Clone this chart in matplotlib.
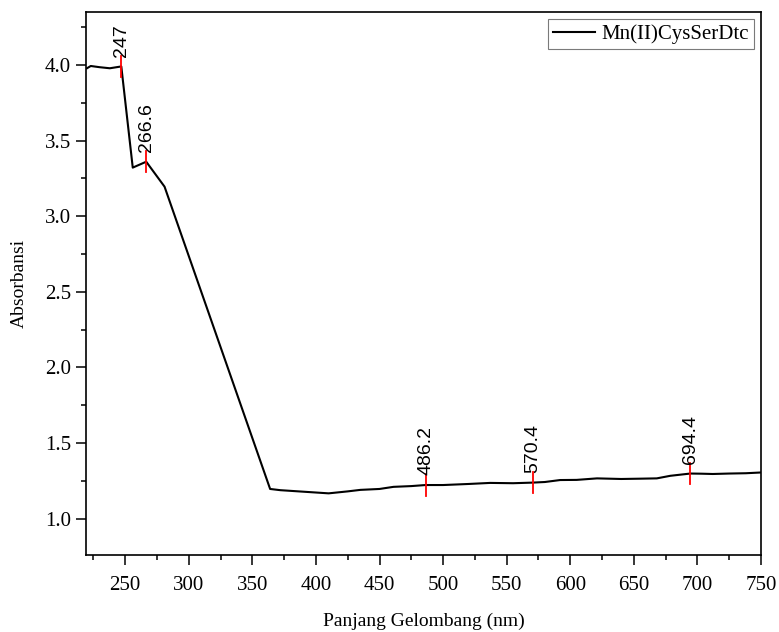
import numpy as np
import matplotlib
matplotlib.use('Agg')
import matplotlib.pyplot as plt
from matplotlib.ticker import MultipleLocator

plt.rcParams['font.family'] = ['Liberation Serif', 'DejaVu Serif']

# spectrum
wavelength = [220, 223, 230, 238, 247, 256, 266.6, 281, 364, 372, 390, 410, 425, 435,
              450, 461, 475, 486.2, 500, 520, 537, 555, 570.4, 580, 592, 605, 621,
              640, 655, 668, 678.6, 694.4, 703, 712, 725, 738, 750]
absorbance = [3.978, 3.993, 3.985, 3.978, 3.99, 3.321, 3.36, 3.195, 1.196, 1.188, 1.178,
              1.167, 1.18, 1.19, 1.196, 1.21, 1.215, 1.222, 1.222, 1.229, 1.236, 1.234,
              1.238, 1.242, 1.255, 1.256, 1.266, 1.262, 1.264, 1.266, 1.283, 1.298,
              1.297, 1.295, 1.298, 1.300, 1.305]

peak_x = [247, 266.6, 486.2, 570.4, 694.4]
peak_y = [3.99, 3.36, 1.222, 1.238, 1.298]
peak_labels = ['247', '266.6', '486.2', '570.4', '694.4']

fontsize = 15
fig = plt.figure(figsize=(7.79, 6.32), dpi=100)
ax = fig.add_axes([0.110, 0.122, 0.867, 0.859])

ax.plot(wavelength, absorbance, '-k', lw=1.5, label='Mn(II)CysSerDtc')

half = 0.07
for px, py, lab in zip(peak_x, peak_y, peak_labels):
    ax.plot([px, px], [py - half, py + half], '-r', lw=1.3)
    ax.text(px, py + half - 0.005, lab, rotation=90, ha='center', va='bottom',
            fontsize=14, family=['Liberation Sans', 'DejaVu Sans'])

ax.set_xlim(219, 750)
ax.set_ylim(0.76, 4.35)
ax.xaxis.set_major_locator(MultipleLocator(50))
ax.xaxis.set_minor_locator(MultipleLocator(25))
ax.yaxis.set_major_locator(MultipleLocator(0.5))
ax.yaxis.set_minor_locator(MultipleLocator(0.25))
ax.yaxis.set_major_formatter(plt.FormatStrFormatter('%.1f'))

ax.tick_params(axis='both', which='major', direction='out', length=7, width=1.1,
               labelsize=fontsize)
ax.tick_params(axis='x', which='major', pad=8)
ax.tick_params(axis='both', which='minor', direction='out', length=3.6, width=1.1)
ax.tick_params(top=False, right=False, which='both')
for sp in ax.spines.values():
    sp.set_linewidth(1.2)

ax.set_xlabel('Panjang Gelombang (nm)', fontsize=14, labelpad=13)
ax.set_ylabel('Absorbansi', fontsize=14, labelpad=12)

leg = ax.legend(loc='upper right', fontsize=15, fancybox=False, borderaxespad=0.35,
                handlelength=2.0, handletextpad=0.3, borderpad=0.25)
leg.get_frame().set_edgecolor('0.35')
leg.get_frame().set_linewidth(0.8)

fig.savefig('out.png', dpi=100)
